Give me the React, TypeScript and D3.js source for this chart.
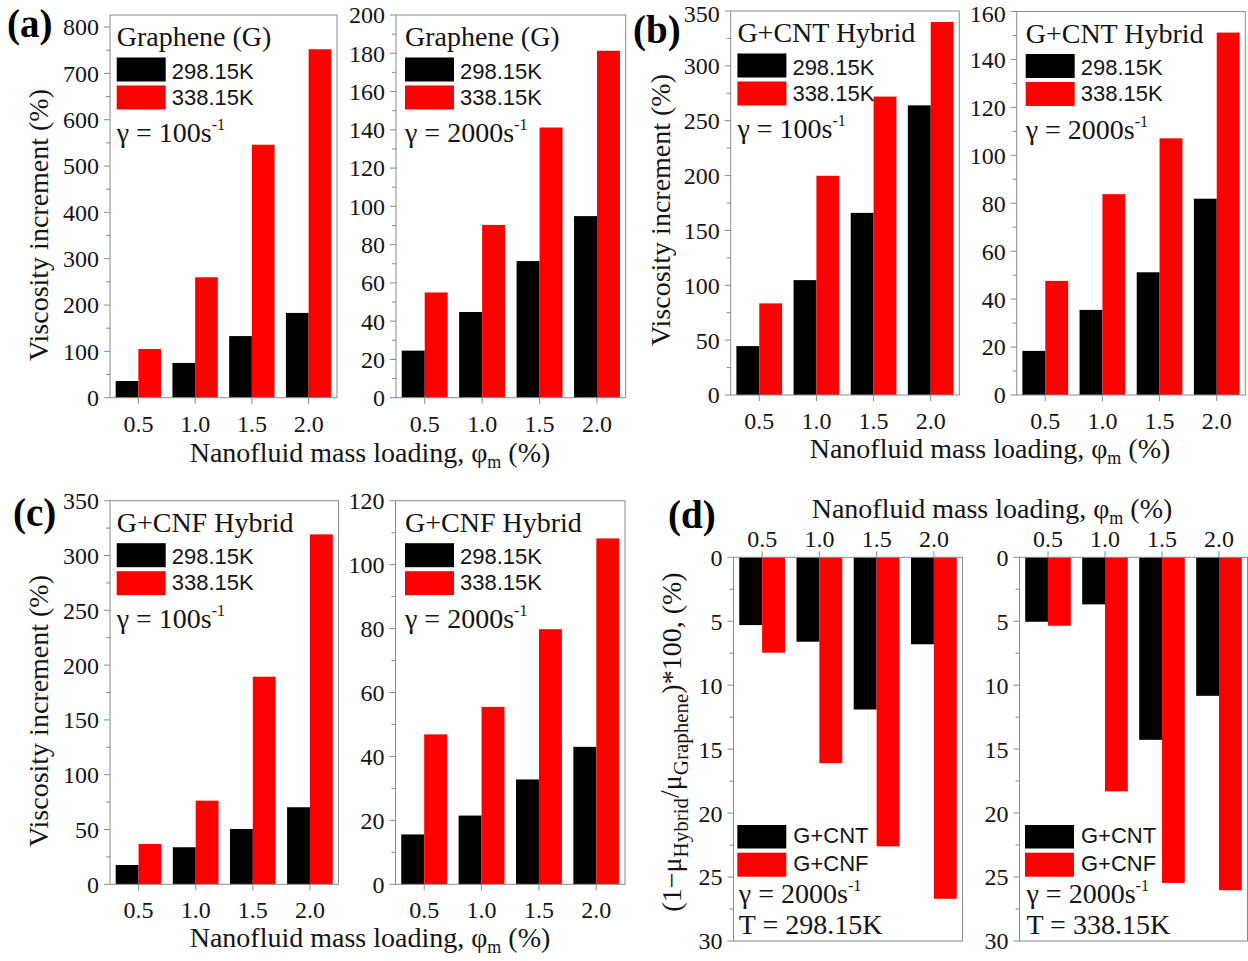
import React from 'react';
import * as d3 from 'd3';

// ---------- data ----------
const loadings = [0.5, 1.0, 1.5, 2.0];
const loadingLabels = ['0.5', '1.0', '1.5', '2.0'];

// (a) Graphene
const gr100_298 = [36, 75, 133, 183];
const gr100_338 = [105, 260, 546, 752];
const gr2000_298 = [24.6, 44.8, 71.4, 94.9];
const gr2000_338 = [55.0, 90.3, 141.2, 181.3];
// (b) G+CNT
const cnt100_298 = [44.6, 104.7, 166, 264];
const cnt100_338 = [83.5, 199.8, 272, 340];
const cnt2000_298 = [18.4, 35.5, 51.2, 81.9];
const cnt2000_338 = [47.6, 83.8, 107.1, 151.2];
// (c) G+CNF
const cnf100_298 = [17.6, 33.8, 50.5, 70.3];
const cnf100_338 = [36.8, 76.3, 189.4, 319.3];
const cnf2000_298 = [15.6, 21.5, 32.8, 43.0];
const cnf2000_338 = [46.9, 55.5, 79.8, 108.2];
// (d) reduction vs graphene
const red298_cnt = [5.3, 6.6, 11.9, 6.8];
const red298_cnf = [7.46, 16.1, 22.6, 26.7];
const red338_cnt = [5.04, 3.68, 14.27, 10.83];
const red338_cnf = [5.35, 18.3, 25.46, 26.03];

const tempLabels = ['298.15K', '338.15K'];
const hybridLabels = ['G+CNT', 'G+CNF'];

const SERIF = '"Liberation Serif", "Times New Roman", Times, serif';
const SANS = '"Liberation Sans", Arial, Helvetica, sans-serif';
const GRAY = '#8a8a8a';
const TXT = '#141414';

type Spec = {
  x0: number; x1: number; yTop: number; yBot: number;
  max: number; tickMax: number; major: number; minor: number;
  inverted?: boolean;
  s1: number[]; s2: number[];
  kind: 'temp' | 'hybrid';
  title?: string; gamma: string; T?: string;
  lx: number;
};

const panels: Spec[] = [
  { x0: 110, x1: 337, yTop: 15, yBot: 397.7, max: 826, tickMax: 800, major: 100, minor: 50, s1: gr100_298, s2: gr100_338, kind: 'temp', title: 'Graphene (G)', gamma: '100', lx: 6.7 },
  { x0: 396, x1: 625.7, yTop: 15, yBot: 397.7, max: 200, tickMax: 200, major: 20, minor: 10, s1: gr2000_298, s2: gr2000_338, kind: 'temp', title: 'Graphene (G)', gamma: '2000', lx: 9 },
  { x0: 730.7, x1: 959.3, yTop: 11, yBot: 395, max: 350, tickMax: 350, major: 50, minor: 25, s1: cnt100_298, s2: cnt100_338, kind: 'temp', title: 'G+CNT Hybrid', gamma: '100', lx: 6.7 },
  { x0: 1016.7, x1: 1245.3, yTop: 11.5, yBot: 395, max: 160, tickMax: 160, major: 20, minor: 10, s1: cnt2000_298, s2: cnt2000_338, kind: 'temp', title: 'G+CNT Hybrid', gamma: '2000', lx: 9 },
  { x0: 110, x1: 338.5, yTop: 500.7, yBot: 884.3, max: 350, tickMax: 350, major: 50, minor: 25, s1: cnf100_298, s2: cnf100_338, kind: 'temp', title: 'G+CNF Hybrid', gamma: '100', lx: 6.7 },
  { x0: 395.5, x1: 625, yTop: 500.7, yBot: 884.3, max: 120, tickMax: 120, major: 20, minor: 10, s1: cnf2000_298, s2: cnf2000_338, kind: 'temp', title: 'G+CNF Hybrid', gamma: '2000', lx: 9.5 },
  { x0: 733.5, x1: 962.5, yTop: 557.3, yBot: 941, max: 30, tickMax: 30, major: 5, minor: 2.5, inverted: true, s1: red298_cnt, s2: red298_cnf, kind: 'hybrid', gamma: '2000', T: 'T = 298.15K', lx: 3.8 },
  { x0: 1019.5, x1: 1247.5, yTop: 557.3, yBot: 941, max: 30, tickMax: 30, major: 5, minor: 2.5, inverted: true, s1: red338_cnt, s2: red338_cnf, kind: 'hybrid', gamma: '2000', T: 'T = 338.15K', lx: 5.5 },
];

function Gamma({ x, y, g }: { x: number; y: number; g: string }) {
  return (
    <text x={x} y={y} fontFamily={SERIF} fontSize={28} fill={TXT}>
      γ = {g}s<tspan dy={-12} fontSize={16}>-1</tspan>
    </text>
  );
}

function Panel({ spec }: { spec: Spec }) {
  const { x0, x1, yTop, yBot, max, tickMax, major, minor, inverted, s1, s2, lx } = spec;
  const xs = d3.scaleLinear().domain([0.25, 2.25]).range([x0, x1]);
  const ys = inverted
    ? d3.scaleLinear().domain([0, max]).range([yTop, yBot])
    : d3.scaleLinear().domain([0, max]).range([yBot, yTop]);
  const majors = d3.range(0, tickMax + 1e-9, major);
  const minors = d3.range(minor, tickMax, major);
  const bw = 0.2;
  const axisY = inverted ? yTop : yBot;
  const tickDir = inverted ? -1 : 1;
  const bars: React.ReactNode[] = [];
  loadings.forEach((L, i) => {
    const y0 = ys(0);
    const v1 = ys(s1[i]);
    const v2 = ys(s2[i]);
    bars.push(
      <rect key={'a' + i} x={xs(L - bw)} width={xs(L) - xs(L - bw)} y={Math.min(y0, v1)} height={Math.abs(v1 - y0)} fill="#000" />,
      <rect key={'b' + i} x={xs(L)} width={xs(L + bw) - xs(L)} y={Math.min(y0, v2)} height={Math.abs(v2 - y0)} fill="#ff0000" />
    );
  });
  const labels = spec.kind === 'temp' ? tempLabels : hybridLabels;
  let legend: React.ReactNode;
  if (spec.kind === 'temp') {
    const lxp = x0 + lx;
    legend = (
      <g>
        <text x={lxp} y={yTop + 31} fontFamily={SERIF} fontSize={28} fill={TXT}>{spec.title}</text>
        <rect x={lxp} y={yTop + 42.5} width={49} height={24} fill="#000" />
        <rect x={lxp} y={yTop + 70.5} width={49} height={24} fill="#ff0000" />
        <text x={lxp + 55} y={yTop + 63.5} fontFamily={SANS} fontSize={22} fill={TXT}>{labels[0]}</text>
        <text x={lxp + 55} y={yTop + 89.5} fontFamily={SANS} fontSize={22} fill={TXT}>{labels[1]}</text>
        <Gamma x={lxp} y={yTop + 127} g={spec.gamma} />
      </g>
    );
  } else {
    const lxp = x0 + lx;
    legend = (
      <g>
        <rect x={lxp} y={yTop + 267.7} width={49} height={23.5} fill="#000" />
        <rect x={lxp} y={yTop + 295.4} width={49} height={24} fill="#ff0000" />
        <text x={lxp + 56} y={yTop + 286} fontFamily={SANS} fontSize={22} fill={TXT}>{labels[0]}</text>
        <text x={lxp + 56} y={yTop + 313.4} fontFamily={SANS} fontSize={22} fill={TXT}>{labels[1]}</text>
        <Gamma x={lxp + 1.5} y={yTop + 345.4} g={spec.gamma} />
        <text x={lxp + 1.5} y={yTop + 376.7} fontFamily={SERIF} fontSize={28} fill={TXT}>{spec.T}</text>
      </g>
    );
  }
  return (
    <g>
      {bars}
      <rect x={x0} y={yTop} width={x1 - x0} height={yBot - yTop} fill="none" stroke={GRAY} strokeWidth={1} />
      {majors.map((t) => (
        <g key={'mj' + t}>
          <line x1={x0 - 6} x2={x0} y1={ys(t)} y2={ys(t)} stroke={GRAY} strokeWidth={1} />
          <text x={x0 - 11} y={Math.max(ys(t), 14)} dy="0.35em" textAnchor="end" fontFamily={SERIF} fontSize={24} fill={TXT}>{d3.format('d')(t)}</text>
        </g>
      ))}
      {minors.map((t) => (
        <line key={'mn' + t} x1={x0 - 4} x2={x0} y1={ys(t)} y2={ys(t)} stroke={GRAY} strokeWidth={1} />
      ))}
      {loadings.map((L, i) => (
        <g key={'xt' + i}>
          <line x1={xs(L)} x2={xs(L)} y1={axisY} y2={axisY + tickDir * 6} stroke={GRAY} strokeWidth={1} />
          <text x={xs(L)} y={inverted ? yTop - 10.5 : yBot + 34} textAnchor="middle" fontFamily={SERIF} fontSize={24} fill={TXT}>{loadingLabels[i]}</text>
        </g>
      ))}
      {legend}
    </g>
  );
}

function XTitle({ x, y }: { x: number; y: number }) {
  return (
    <text x={x} y={y} textAnchor="middle" fontFamily={SERIF} fontSize={28} fill={TXT}>
      Nanofluid mass loading, φ<tspan dy={6} fontSize={18}>m</tspan><tspan dy={-6}> (%)</tspan>
    </text>
  );
}

function YTitle({ x, y }: { x: number; y: number }) {
  return (
    <text transform={`translate(${x},${y}) rotate(-90)`} textAnchor="middle" fontFamily={SERIF} fontSize={28} fill={TXT}>
      Viscosity increment (%)
    </text>
  );
}

function PanelLabel({ x, y, t }: { x: number; y: number; t: string }) {
  return (
    <text x={x} y={y} fontFamily={SERIF} fontSize={39} fontWeight="bold" fill="#000">{t}</text>
  );
}

export default function App() {
  return (
    <svg width={1248} height={961} style={{ position: 'absolute', left: 0, top: 0, background: '#fff' }}>
      <rect x={0} y={0} width={1248} height={961} fill="#fff" />
      {panels.map((p, i) => <Panel key={i} spec={p} />)}
      <YTitle x={48} y={225} />
      <YTitle x={670} y={210} />
      <YTitle x={48} y={711} />
      <text transform="translate(681,742) rotate(-90)" textAnchor="middle" fontFamily={SERIF} fontSize={28} fill={TXT}>
        (1−μ<tspan dy={7} fontSize={21}>Hybrid</tspan><tspan dy={-9}>/</tspan><tspan dy={2}>μ</tspan><tspan dy={7} fontSize={21}>Graphene</tspan><tspan dy={-7}>)*100, (%)</tspan>
      </text>
      <XTitle x={370} y={462} />
      <XTitle x={990} y={458} />
      <XTitle x={370} y={947} />
      <XTitle x={992} y={518} />
      <PanelLabel x={7} y={37} t="(a)" />
      <PanelLabel x={633} y={43} t="(b)" />
      <PanelLabel x={13} y={526} t="(c)" />
      <PanelLabel x={668} y={528} t="(d)" />
    </svg>
  );
}
